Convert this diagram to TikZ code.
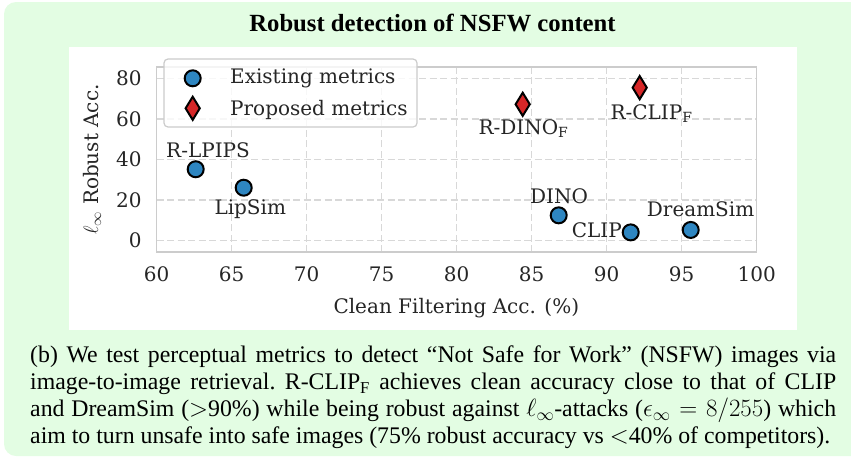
\documentclass[tikz,border=0pt]{standalone}
\usepackage{fontspec}
\setmainfont{Liberation Serif}
\newfontfamily\plotfont{DejaVu Serif}
\usepackage{xcolor}
\usetikzlibrary{shapes.geometric}

\definecolor{boxgreen}{HTML}{E3FDE3}
\definecolor{markblue}{HTML}{2E86C1}
\definecolor{markred}{HTML}{D62728}
\definecolor{gridgray}{HTML}{D8D8D8}
\definecolor{framegray}{HTML}{CCCCCC}
\definecolor{plottext}{HTML}{262626}

\tikzset{
  existing/.style={circle, draw=black, fill=markblue, line width=2pt, minimum size=16pt, inner sep=0pt},
  proposed/.style={diamond, draw=black, fill=markred, line width=2pt, minimum width=15pt, minimum height=24pt, inner sep=0pt},
  gridline/.style={gridgray, line width=1.3pt, dash pattern=on 7pt off 3.5pt},
  frameline/.style={framegray, line width=1.5pt},
  plotlabel/.style={font=\plotfont\fontsize{20}{24}\selectfont, text=plottext, inner sep=0pt},
}

\begin{document}
\begin{tikzpicture}[x=1pt, y=-1pt]
  \useasboundingbox (0,0) rectangle (851,461);
  % green panel, cut off at the right edge
  \begin{scope}
    \clip (0,0) rectangle (851,461);
    \fill[boxgreen, rounded corners=12pt] (4,2) rectangle (880,456);
  \end{scope}
  \fill[white] (69,47) rectangle (797,330);

  \node[font=\bfseries\fontsize{24.7}{29}\selectfont, anchor=base, inner sep=0pt] (title) at (432.5,31.7) {Robust detection of NSFW content};

  % axes in data units: x 60..100, y -5.6..85.6
  \begin{scope}[shift={(-743.3,240.7)}, x=15pt, y=2.03pt]
    \foreach \gx in {65,70,...,95}
      \draw[gridline] (\gx,-5.6) -- (\gx,85.6);
    \foreach \gy in {0,20,...,80}
      \draw[gridline] (60,\gy) -- (100,\gy);
    \draw[frameline] (60,-5.6) rectangle (100,85.6);

    \foreach \gx in {60,65,...,100}
      \node[plotlabel, anchor=base] (xtick\gx) at (\gx,-20.2) {\gx};
    \foreach \gy in {0,20,...,80}
      \node[plotlabel, anchor=east] (ytick\gy) at (59,\gy) {\gy};

    % existing metrics
    \node[existing] (rlpips) at (62.6,35.2) {};
    \node[existing] (lipsim) at (65.8,26.1) {};
    \node[existing] (dino) at (86.8,12.5) {};
    \node[existing] (clip) at (91.6,4.1) {};
    \node[existing] (dreamsim) at (95.6,5.3) {};

    % proposed metrics
    \node[proposed] (rdino) at (84.4,67.2) {};
    \node[proposed] (rclip) at (92.2,75.4) {};
  \end{scope}

  % point labels
  \node[plotlabel, anchor=base west] (rlpipslab) at (166,157.3) {R-LPIPS};
  \node[plotlabel, anchor=base west] (lipsimlab) at (214.3,214) {LipSim};
  \node[plotlabel, anchor=base west] (dinolab) at (530,203.3) {DINO};
  \node[plotlabel, anchor=base west] (cliplab) at (571.7,237.3) {CLIP};
  \node[plotlabel, anchor=base west] (dreamsimlab) at (646.7,216.7) {DreamSim};
  \node[plotlabel, anchor=base west] (rdinolab) at (478.3,134) {R-DINO\textsubscript{F}};
  \node[plotlabel, anchor=base west] (rcliplab) at (610.3,119) {R-CLIP\textsubscript{F}};

  % legend
  \draw[framegray, fill=white, fill opacity=0.8, rounded corners=4pt, line width=1.2pt] (164,59) rectangle (417,127);
  \node[existing] (legexist) at (192.7,78.3) {};
  \node[proposed] (legprop) at (192.7,108.3) {};
  \node[plotlabel, anchor=base west] (legexistlab) at (230,83.3) {Existing metrics};
  \node[plotlabel, anchor=base west] (legproplab) at (230,115) {Proposed metrics};

  % axis titles
  \node[plotlabel, anchor=base] (xlabel) at (456.3,313.3) {Clean Filtering Acc. (\%)};
  \node[plotlabel, anchor=base, rotate=90] (ylabel) at (98,159.5) {$\ell_\infty$ Robust Acc.};

  % caption
  \node[anchor=north west, text width=806pt, align=justify, inner sep=0pt,
        font=\fontsize{23.8}{27}\selectfont] (caption) at (30,345.5)
    {\frenchspacing\hyphenpenalty=10000 (b) We test perceptual metrics to detect ``Not Safe for Work'' (NSFW) images via\linebreak
     image-to-image retrieval. R-CLIP\textsubscript{F} achieves clean accuracy close to that of CLIP\linebreak
     and DreamSim ($>$90\%) while being robust against $\ell_\infty$-attacks ($\epsilon_\infty=8/255$) which\linebreak
     aim to turn unsafe into safe images (75\% robust accuracy vs $<$40\% of competitors).};
\end{tikzpicture}
\end{document}
